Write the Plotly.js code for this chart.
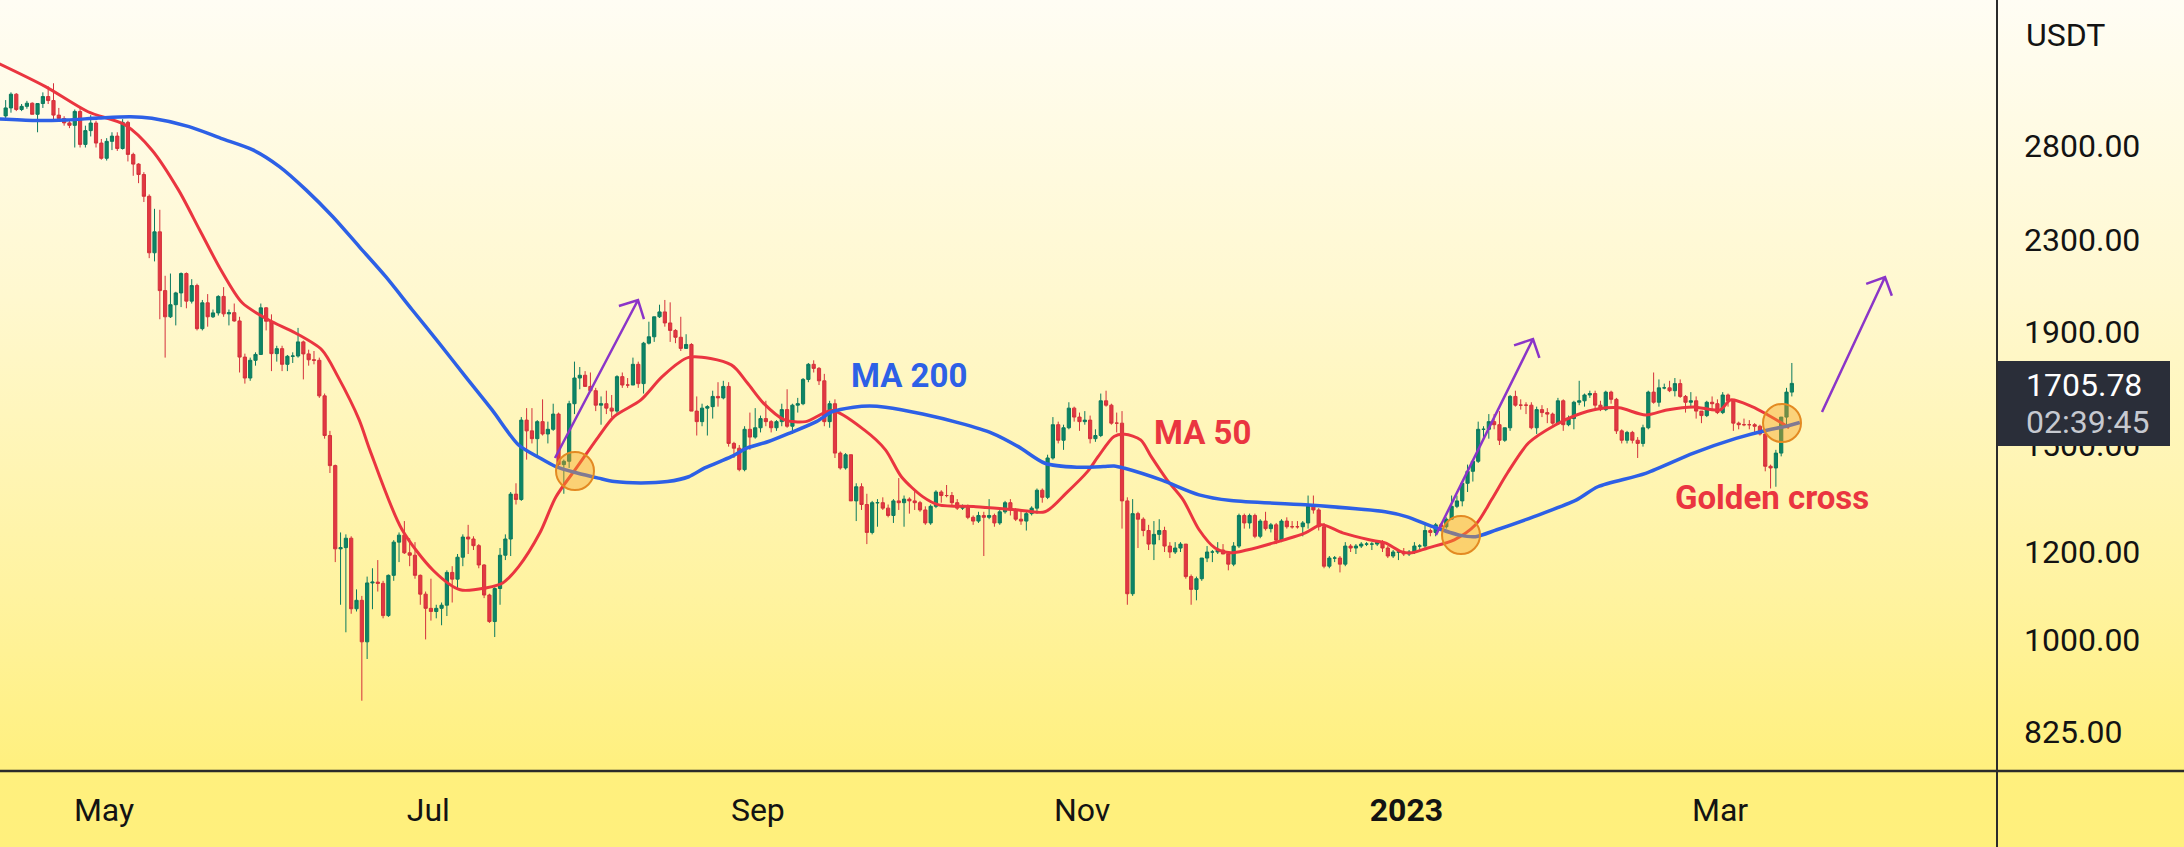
<!DOCTYPE html>
<html>
<head>
<meta charset="utf-8">
<script src="https://cdn.plot.ly/plotly-3.0.1.min.js"></script>
<style>
  html, body { margin: 0; padding: 0; }
  #chart {
    width: 2184px;
    height: 847px;
    background: linear-gradient(to bottom, #fffdf4 0%, #fff8cf 35%, #fff3a0 70%, #fff07e 91%, #fff07c 100%);
  }
</style>
</head>
<body>
<div id="chart"></div>
<script>
// ETH / USDT daily candles, 12 Apr 2022 .. 14 Mar 2023, one line per month
var opens = [
  2980,3030,3118,3020,3040,3060,2990,3058,3103,3077,2985,2964,2937,2922,3008,2808,2890,2936,2816,
  2728,2826,2857,2784,2940,2750,2695,2637,2520,2240,2340,2070,1960,2010,2060,2145,2025,2092,1912,2018,1960,1976,2045,1972,1977,1943,1802,1725,1790,1812,1997,
  1942,1815,1834,1775,1805,1806,1860,1814,1792,1790,1662,1530,1437,1208,1211,1235,1066,1085,995,1125,1127,1124,1051,1143,1225,1243,1198,1192,1143,1099,
  1067,1060,1067,1074,1150,1134,1187,1238,1233,1216,1168,1097,1038,1112,1192,1233,1354,1339,1580,1545,1520,1575,1535,1550,1600,1440,1450,1635,1725,1735,1695,
  1680,1630,1635,1620,1610,1730,1700,1700,1775,1705,1855,1880,1960,1980,1935,1905,1878,1835,1850,1610,1575,1620,1625,1660,1655,1695,1505,1490,1425,1550,1525,
  1555,1585,1575,1555,1575,1615,1560,1630,1635,1720,1775,1760,1715,1575,1635,1475,1430,1470,1335,1375,1325,1250,1330,1330,1315,1295,1335,1330,1340,1335,
  1330,1310,1275,1320,1360,1350,1350,1330,1315,1320,1290,1280,1295,1290,1295,1275,1305,1330,1310,1285,1280,1300,1315,1365,1345,1460,1565,1515,1555,1620,1590,
  1575,1580,1520,1530,1645,1630,1570,1570,1335,1100,1300,1285,1255,1220,1245,1255,1215,1200,1210,1220,1140,1110,1135,1185,1200,1200,1205,1195,1170,1215,
  1295,1275,1295,1240,1280,1260,1270,1230,1280,1265,1265,1265,1275,1320,1310,1265,1165,1185,1185,1170,1215,1210,1215,1220,1220,1220,1225,1210,1190,1200,1200,
  1195,1200,1215,1215,1255,1250,1270,1265,1285,1320,1335,1385,1420,1450,1550,1550,1575,1565,1515,1555,1660,1630,1630,1630,1555,1615,1605,1600,1570,1645,1565,
  1585,1640,1645,1665,1670,1630,1615,1675,1650,1545,1515,1540,1515,1505,1555,1675,1640,1690,1690,1680,1705,1660,1640,1645,1610,1595,1640,1635,
  1605,1665,1645,1570,1565,1565,1565,1560,1535,1435,1430,1475,1590,1675
];
var highs = [
  3080,3130,3125,3055,3075,3065,3060,3130,3170,3190,3030,2978,2955,3020,3035,2920,2985,2950,2840,
  2845,2880,2880,2960,2950,2760,2700,2650,2530,2455,2450,2135,2145,2065,2150,2150,2120,2100,2030,2055,1990,2050,2085,1990,2015,1960,1815,1800,1820,2015,2000,
  1970,1845,1845,1810,1820,1915,1865,1830,1825,1800,1670,1545,1440,1250,1245,1240,1110,1095,1140,1160,1180,1130,1145,1230,1250,1280,1235,1225,1145,1105,
  1135,1075,1080,1155,1165,1195,1245,1270,1240,1220,1170,1100,1115,1210,1245,1360,1385,1590,1620,1620,1580,1650,1575,1635,1605,1455,1645,1785,1765,1750,1745,
  1690,1660,1680,1665,1735,1745,1725,1800,1785,1860,1940,1960,2010,2030,2020,1910,1960,1890,1855,1660,1635,1630,1680,1710,1715,1710,1510,1500,1560,1605,1620,
  1595,1645,1580,1580,1635,1685,1635,1655,1725,1780,1790,1765,1740,1645,1650,1480,1475,1470,1385,1385,1355,1335,1340,1345,1325,1340,1400,1350,1345,1365,
  1335,1320,1325,1365,1365,1380,1360,1340,1325,1325,1295,1305,1305,1340,1300,1315,1335,1340,1315,1310,1305,1320,1370,1370,1470,1590,1575,1565,1640,1625,1605,
  1610,1595,1550,1670,1680,1635,1605,1610,1345,1340,1305,1290,1270,1280,1285,1265,1225,1225,1225,1220,1145,1140,1185,1215,1205,1225,1220,1200,1225,1300,
  1300,1300,1300,1285,1305,1275,1275,1285,1290,1280,1280,1280,1350,1350,1315,1275,1190,1190,1190,1225,1220,1220,1225,1225,1225,1230,1230,1215,1205,1200,1210,
  1205,1225,1220,1275,1260,1275,1275,1290,1350,1350,1390,1440,1450,1575,1560,1600,1600,1610,1555,1665,1680,1650,1640,1640,1625,1630,1620,1605,1655,1650,1595,
  1645,1715,1670,1680,1680,1645,1680,1680,1655,1550,1545,1545,1525,1565,1680,1745,1720,1705,1715,1725,1720,1665,1675,1660,1610,1645,1660,1650,
  1675,1670,1650,1575,1585,1580,1570,1565,1545,1440,1485,1590,1690,1780
];
var lows = [
  2955,3000,3010,3010,3025,2990,2880,3030,3055,2960,2945,2920,2905,2790,2790,2790,2855,2790,2720,
  2715,2775,2770,2778,2710,2630,2590,2490,2215,2200,1950,1800,1955,1925,2000,1995,2015,1905,1905,1920,1955,1965,1960,1925,1940,1745,1705,1715,1770,1810,1905,
  1750,1785,1750,1750,1780,1800,1720,1770,1775,1655,1520,1415,1175,1075,1015,1055,1060,880,960,1065,1105,1045,1048,1130,1175,1195,1165,1135,1075,1000,
  1040,1045,1030,1050,1080,1110,1165,1195,1205,1160,1090,1035,1005,1075,1180,1190,1325,1335,1455,1505,1465,1530,1505,1545,1435,1355,1430,1600,1685,1700,1675,
  1610,1565,1600,1590,1600,1690,1690,1700,1690,1670,1850,1860,1955,1920,1860,1855,1825,1840,1610,1530,1560,1530,1585,1625,1650,1495,1460,1420,1420,1485,1520,
  1540,1560,1540,1545,1560,1555,1535,1605,1630,1710,1745,1700,1560,1555,1460,1425,1425,1335,1280,1310,1220,1245,1265,1310,1290,1275,1310,1265,1300,1310,
  1305,1270,1270,1315,1330,1345,1320,1310,1310,1285,1270,1275,1190,1285,1265,1270,1300,1295,1280,1270,1255,1295,1300,1330,1340,1455,1505,1485,1550,1575,1545,
  1565,1505,1510,1525,1625,1565,1540,1260,1075,1095,1210,1240,1205,1180,1230,1200,1185,1195,1200,1135,1075,1085,1130,1175,1175,1195,1195,1155,1165,1210,
  1260,1260,1235,1235,1255,1250,1220,1225,1260,1260,1260,1240,1260,1300,1255,1160,1160,1175,1150,1165,1200,1195,1210,1215,1205,1215,1200,1185,1185,1180,1190,
  1190,1195,1205,1210,1240,1240,1260,1260,1285,1315,1320,1360,1390,1445,1515,1520,1550,1500,1510,1545,1625,1615,1600,1550,1535,1590,1570,1565,1565,1545,1560,
  1550,1630,1625,1655,1615,1610,1610,1635,1535,1505,1505,1505,1460,1495,1550,1635,1625,1685,1675,1660,1655,1605,1625,1585,1570,1590,1610,1600,
  1600,1625,1545,1550,1560,1550,1535,1530,1420,1370,1375,1465,1560,1660
];
var closes = [
  3030,3118,3020,3040,3060,2990,3058,3103,3077,2985,2964,2937,2922,3008,2808,2890,2936,2816,2728,
  2826,2857,2784,2940,2750,2695,2637,2520,2240,2340,2070,1960,2010,2060,2145,2025,2092,1912,2018,1960,1976,2045,1972,1977,1943,1802,1725,1790,1812,1997,1942,
  1815,1834,1775,1805,1806,1860,1814,1792,1790,1662,1530,1437,1208,1211,1235,1066,1085,995,1125,1127,1124,1051,1143,1225,1243,1198,1192,1143,1099,1067,
  1060,1067,1074,1150,1134,1187,1238,1233,1216,1168,1097,1038,1112,1192,1233,1354,1339,1580,1545,1520,1575,1535,1550,1600,1440,1450,1635,1725,1735,1695,1680,
  1630,1635,1620,1610,1730,1700,1700,1775,1705,1855,1880,1960,1980,1935,1905,1878,1835,1850,1610,1575,1620,1625,1660,1655,1695,1505,1490,1425,1550,1525,1555,
  1585,1575,1555,1575,1615,1560,1630,1635,1720,1775,1760,1715,1575,1635,1475,1430,1470,1335,1375,1325,1250,1330,1330,1315,1295,1335,1330,1340,1335,1330,
  1310,1275,1320,1360,1350,1350,1330,1315,1320,1290,1280,1295,1290,1295,1275,1305,1330,1310,1285,1280,1300,1315,1365,1345,1460,1565,1515,1555,1620,1590,1575,
  1580,1520,1530,1645,1630,1570,1570,1335,1100,1300,1285,1255,1220,1245,1255,1215,1200,1210,1220,1140,1110,1135,1185,1200,1200,1205,1195,1170,1215,1295,
  1275,1295,1240,1280,1260,1270,1230,1280,1265,1265,1265,1275,1320,1310,1265,1165,1185,1185,1170,1215,1210,1215,1220,1220,1220,1225,1210,1190,1200,1200,1195,
  1200,1215,1215,1255,1250,1270,1265,1285,1320,1335,1385,1420,1450,1550,1550,1575,1565,1515,1555,1660,1630,1630,1630,1555,1615,1605,1600,1570,1645,1565,1585,
  1640,1645,1665,1670,1630,1615,1675,1650,1545,1515,1540,1515,1505,1555,1675,1640,1690,1690,1680,1705,1660,1640,1645,1610,1595,1640,1635,1605,
  1665,1645,1570,1565,1565,1565,1560,1535,1435,1430,1475,1590,1675,1705.78
];

// moving averages
var ma50Dates = ['2022-04-11','2022-04-20','2022-04-28','2022-05-05','2022-05-10','2022-05-15','2022-05-19','2022-05-23','2022-05-27',
  '2022-06-01','2022-06-06','2022-06-11','2022-06-14','2022-06-18','2022-06-20','2022-06-26','2022-07-02','2022-07-07','2022-07-12',
  '2022-07-15','2022-07-18','2022-07-22','2022-07-25','2022-07-29','2022-08-02','2022-08-05','2022-08-10','2022-08-14','2022-08-19',
  '2022-08-27','2022-08-30','2022-09-02','2022-09-06','2022-09-10','2022-09-15','2022-09-21','2022-09-25','2022-09-28','2022-10-02',
  '2022-10-05','2022-10-12','2022-10-20','2022-10-25','2022-10-29','2022-11-02','2022-11-04','2022-11-07','2022-11-09','2022-11-12',
  '2022-11-14','2022-11-17','2022-11-20','2022-11-23','2022-11-26','2022-11-29','2022-12-02','2022-12-07','2022-12-13','2022-12-16',
  '2022-12-20','2022-12-25','2022-12-28','2022-12-31','2023-01-02','2023-01-05','2023-01-10','2023-01-14','2023-01-17','2023-01-20',
  '2023-01-24','2023-01-29','2023-02-02','2023-02-06','2023-02-10','2023-02-15','2023-02-19','2023-02-24','2023-03-01','2023-03-03',
  '2023-03-07','2023-03-10','2023-03-13','2023-03-14'];
var ma50 = [3328,3168,3006,2924,2776,2554,2349,2161,2018,
  1947,1895,1829,1730,1581,1485,1259,1154,1109,1114,
  1125,1164,1249,1346,1433,1526,1592,1648,1730,1801,
  1773,1708,1638,1581,1575,1612,1548,1485,1404,1347,
  1324,1319,1310,1305,1357,1419,1464,1527,1534,1516,
  1464,1394,1338,1257,1210,1198,1205,1223,1249,1270,
  1249,1231,1223,1201,1198,1210,1231,1270,1338,1415,
  1507,1564,1597,1617,1621,1597,1614,1624,1614,1648,
  1625,1597,1566,1555];

var ma200Dates = ['2022-04-11','2022-04-18','2022-04-24','2022-04-30','2022-05-06','2022-05-10','2022-05-17','2022-05-23','2022-05-29',
  '2022-06-03','2022-06-08','2022-06-13','2022-06-18','2022-06-23','2022-06-28','2022-07-03','2022-07-08','2022-07-13','2022-07-18',
  '2022-07-22','2022-07-25','2022-07-29','2022-08-02','2022-08-05','2022-08-10','2022-08-15','2022-08-19','2022-08-22','2022-08-27',
  '2022-08-30','2022-09-03','2022-09-07','2022-09-12','2022-09-15','2022-09-19','2022-09-22','2022-09-25','2022-10-02','2022-10-09',
  '2022-10-15','2022-10-20','2022-10-25','2022-10-31','2022-11-05','2022-11-07','2022-11-09','2022-11-16','2022-11-23','2022-11-29',
  '2022-12-13','2022-12-28','2023-01-01','2023-01-06','2023-01-11','2023-01-14','2023-01-18','2023-01-25','2023-02-02','2023-02-06',
  '2023-02-15','2023-02-24','2023-03-04','2023-03-10','2023-03-13','2023-03-16'];
var ma200 = [2961,2951,2955,2967,2975,2965,2914,2844,2776,
  2681,2554,2416,2269,2131,1988,1856,1730,1614,1500,
  1460,1434,1415,1400,1390,1386,1390,1404,1430,1464,
  1491,1511,1538,1575,1608,1623,1627,1623,1600,1570,
  1538,1495,1444,1432,1434,1436,1429,1394,1352,1336,
  1324,1305,1292,1265,1243,1239,1257,1292,1338,1375,
  1414,1475,1521,1548,1558,1572];

var monthTicks = ['2022-05-01','2022-07-01','2022-09-01','2022-11-01','2023-01-01','2023-03-01'];
var monthLabels = ['May','Jul','Sep','Nov','<b>2023</b>','Mar'];
var priceTicks = [825, 1000, 1200, 1500, 1900, 2300, 2800];
var priceLabels = ['825.00','1000.00','1200.00','1500.00','1900.00','2300.00','2800.00'];

// one candle per day, centred on noon
var days = [];
var t0 = Date.UTC(2022, 3, 12, 12);
for (var i = 0; i < closes.length; i++) {
  days.push(new Date(t0 + i * 86400000).toISOString().slice(0, 10) + ' 12:00');
}

// pixel -> paper helpers for the drawn overlays
var PW = 1997, PH = 771;
function px(x) { return x / PW; }
function py(y) { return 1 - y / PH; }

function ring(cx, cy, r) {
  return {type: 'circle', xref: 'paper', yref: 'paper', layer: 'above',
    x0: px(cx - r), x1: px(cx + r), y0: py(cy + r), y1: py(cy - r),
    fillcolor: 'rgba(245,160,30,0.42)', line: {color: '#e38a22', width: 2}};
}

function arrow(x0, y0, x1, y1) {
  var back = Math.atan2(y0 - y1, x0 - x1);
  var len = 20, spread = Math.PI / 4;
  var ax = x1 + len * Math.cos(back - spread), ay = y1 + len * Math.sin(back - spread);
  var bx = x1 + len * Math.cos(back + spread), by = y1 + len * Math.sin(back + spread);
  var p = 'M' + px(x0) + ',' + py(y0) + ' L' + px(x1) + ',' + py(y1) +
          ' M' + px(ax) + ',' + py(ay) + ' L' + px(x1) + ',' + py(y1) + ' L' + px(bx) + ',' + py(by);
  return {type: 'path', xref: 'paper', yref: 'paper', layer: 'above', path: p,
    line: {color: '#8b35c8', width: 2.5}};
}

function label(text, x, y, color, size, anchor) {
  return {text: text, xref: 'paper', yref: 'paper', x: px(x), y: py(y),
    xanchor: anchor || 'center', yanchor: 'middle', showarrow: false,
    font: {family: 'Roboto, sans-serif', size: size, color: color}};
}

var candles = {
  type: 'candlestick',
  x: days, open: opens, high: highs, low: lows, close: closes,
  increasing: {line: {color: '#0b7a5e', width: 1}, fillcolor: '#0d8566'},
  decreasing: {line: {color: '#d4313b', width: 1}, fillcolor: '#e23842'},
  whiskerwidth: 0,
  hoverinfo: 'skip',
  showlegend: false
};

var maRed = {
  type: 'scatter', mode: 'lines', x: ma50Dates, y: ma50,
  line: {color: '#ea3540', width: 3, shape: 'spline', smoothing: 0.8},
  hoverinfo: 'skip', showlegend: false
};

var maBlue = {
  type: 'scatter', mode: 'lines', x: ma200Dates, y: ma200,
  line: {color: '#2d60e6', width: 3.5, shape: 'spline', smoothing: 0.8},
  hoverinfo: 'skip', showlegend: false
};

var layout = {
  width: 2184,
  height: 847,
  margin: {l: 0, r: 2184 - PW, t: 0, b: 847 - PH},
  paper_bgcolor: 'rgba(0,0,0,0)',
  plot_bgcolor: 'rgba(0,0,0,0)',
  font: {family: 'Roboto, sans-serif', color: '#131313'},
  showlegend: false,
  boxgap: 0.4,
  boxgroupgap: 0,
  xaxis: {
    type: 'date',
    range: ['2022-04-11 10:28', '2023-04-22 02:15'],
    tickvals: monthTicks,
    ticktext: monthLabels,
    tickfont: {size: 32, color: '#131313'},
    ticks: '',
    ticklabelstandoff: 17,
    showgrid: false, zeroline: false, showline: false,
    rangeslider: {visible: false},
    automargin: false, fixedrange: true
  },
  yaxis: {
    type: 'log',
    side: 'right',
    range: [Math.log10(760), Math.log10(3795)],
    tickvals: priceTicks,
    ticktext: priceLabels,
    tickfont: {size: 32, color: '#131313'},
    ticks: '',
    ticklabelstandoff: 26,
    showgrid: false, zeroline: false, showline: false,
    automargin: false, fixedrange: true
  },
  shapes: [
    // axis frame
    {type: 'line', xref: 'paper', yref: 'paper', x0: 0, x1: px(2184), y0: py(771), y1: py(771),
      line: {color: '#2b2b2b', width: 2.5}, layer: 'above'},
    {type: 'line', xref: 'paper', yref: 'paper', x0: 1, x1: 1, y0: py(0), y1: py(847),
      line: {color: '#2b2b2b', width: 2}, layer: 'above'},
    ring(575, 471, 19),
    ring(1461, 535, 19),
    ring(1782, 423, 19),
    arrow(555, 458, 638, 300),
    arrow(1436, 535, 1533, 339),
    arrow(1822, 412, 1885, 277),
    // last price tag, covering part of the 1500 label as in the original
    {type: 'rect', xref: 'paper', yref: 'paper', x0: px(1998), x1: px(2170), y0: py(446), y1: py(361),
      fillcolor: '#2a2e39', line: {width: 0}, layer: 'above'}
  ],
  annotations: [
    label('<b>MA 200</b>', 909, 375, '#2d60e6', 33),
    label('<b>MA 50</b>', 1202, 432, '#ea3540', 33),
    label('<b>Golden cross</b>', 1772, 497, '#ea3540', 33),
    label('USDT', 2024, 35, '#131313', 32, 'left'),
    label('1705.78', 2024, 385, '#ffffff', 32, 'left'),
    label('02:39:45', 2024, 422, '#c6c9d0', 32, 'left')
  ]
};

Plotly.newPlot('chart', [candles, maRed, maBlue], layout, {displayModeBar: false, staticPlot: true});
</script>
</body>
</html>
